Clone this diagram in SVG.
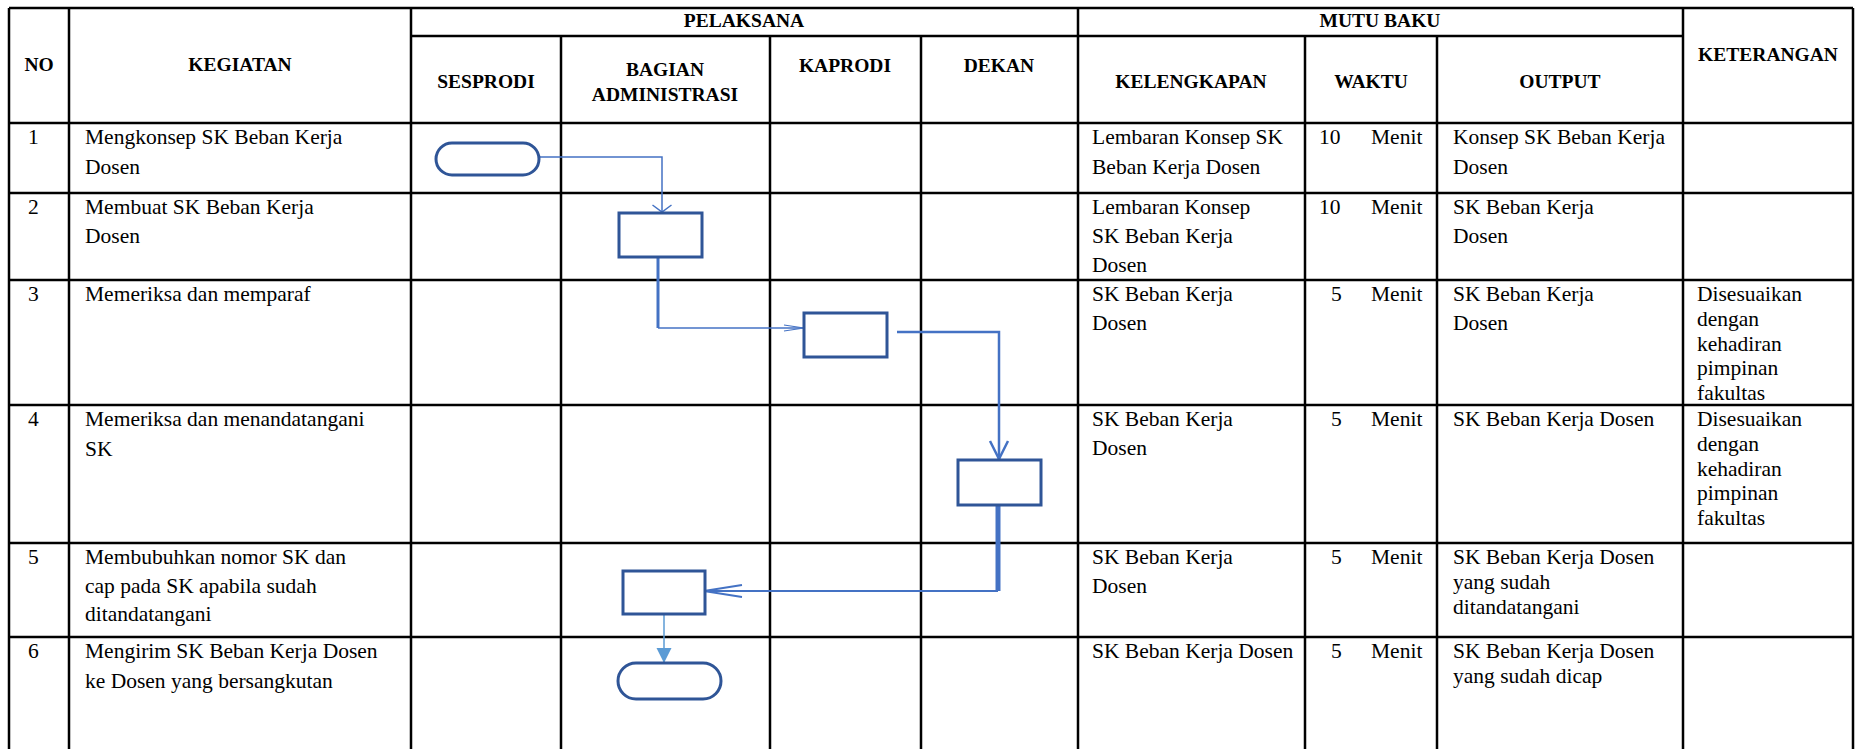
<svg xmlns="http://www.w3.org/2000/svg" width="1857" height="749" viewBox="0 0 1857 749">
<style>
.grid{stroke:#000;stroke-width:2.5;fill:none}
.h{font-family:"Liberation Serif",serif;font-weight:bold;font-size:19.5px;fill:#000;text-anchor:middle}
.t{font-family:"Liberation Serif",serif;font-size:21.5px;fill:#000}
.node{fill:#fff;stroke:#2F5597;stroke-width:3}
.c{fill:none;stroke:#4472C4}
</style>
<defs>
<marker id="vSmall" markerUnits="userSpaceOnUse" markerWidth="12" markerHeight="24" refX="10" refY="12" orient="auto"><path d="M3,2.5 L10,12 L3,21.5" fill="none" stroke="#4472C4" stroke-width="1.5"/></marker>
<marker id="chev" markerUnits="userSpaceOnUse" markerWidth="24" markerHeight="10" refX="22" refY="5" orient="auto"><path d="M2,2 L22,5 L2,8" fill="none" stroke="#4472C4" stroke-width="1.2"/></marker>
<marker id="vMid" markerUnits="userSpaceOnUse" markerWidth="22" markerHeight="22" refX="20" refY="11" orient="auto"><path d="M2,2 L20,11 L2,20" fill="none" stroke="#4472C4" stroke-width="2.5"/></marker>
<marker id="vLong" markerUnits="userSpaceOnUse" markerWidth="42" markerHeight="16" refX="40" refY="8" orient="auto"><path d="M2,2 L40,8 L2,14" fill="none" stroke="#4472C4" stroke-width="2"/></marker>
<marker id="tri" markerUnits="userSpaceOnUse" markerWidth="16" markerHeight="16" refX="15" refY="8" orient="auto"><path d="M0,0.5 L15,8 L0,15.5 Z" fill="#5B9BD5"/></marker>
</defs>
<rect width="1857" height="749" fill="#fff"/>
<g id="table-grid" class="grid">
<line x1="9" y1="8" x2="1853" y2="8"/>
<line x1="411" y1="36" x2="1683" y2="36"/>
<line x1="9" y1="123" x2="1853" y2="123"/>
<line x1="9" y1="193" x2="1853" y2="193"/>
<line x1="9" y1="280" x2="1853" y2="280"/>
<line x1="9" y1="405" x2="1853" y2="405"/>
<line x1="9" y1="543" x2="1853" y2="543"/>
<line x1="9" y1="637" x2="1853" y2="637"/>
<line x1="9" y1="8" x2="9" y2="749"/>
<line x1="69" y1="8" x2="69" y2="749"/>
<line x1="411" y1="8" x2="411" y2="749"/>
<line x1="561" y1="36" x2="561" y2="749"/>
<line x1="770" y1="36" x2="770" y2="749"/>
<line x1="921" y1="36" x2="921" y2="749"/>
<line x1="1078" y1="8" x2="1078" y2="749"/>
<line x1="1305" y1="36" x2="1305" y2="749"/>
<line x1="1437" y1="36" x2="1437" y2="749"/>
<line x1="1683" y1="8" x2="1683" y2="749"/>
<line x1="1853" y1="8" x2="1853" y2="749"/>
</g>
<g id="header-text" class="h">
<text x="39" y="71">NO</text>
<text x="240" y="71">KEGIATAN</text>
<text x="744" y="27">PELAKSANA</text>
<text x="1380" y="27">MUTU BAKU</text>
<text x="1768" y="61">KETERANGAN</text>
<text x="486" y="88">SESPRODI</text>
<text x="665" y="76">BAGIAN</text>
<text x="665" y="101">ADMINISTRASI</text>
<text x="845" y="72">KAPRODI</text>
<text x="999" y="72">DEKAN</text>
<text x="1191" y="88">KELENGKAPAN</text>
<text x="1371" y="88">WAKTU</text>
<text x="1560" y="88">OUTPUT</text>
</g>
<g id="row-1" class="t">
<text x="28" y="144">1</text>
<text x="85" y="144">Mengkonsep SK Beban Kerja</text>
<text x="85" y="174">Dosen</text>
<text x="1092" y="144">Lembaran Konsep SK</text>
<text x="1092" y="174">Beban Kerja Dosen</text>
<text x="1319" y="144">10</text>
<text x="1371" y="144">Menit</text>
<text x="1453" y="144">Konsep SK Beban Kerja</text>
<text x="1453" y="174">Dosen</text>
</g>
<g id="row-2" class="t">
<text x="28" y="214">2</text>
<text x="85" y="214">Membuat SK Beban Kerja</text>
<text x="85" y="243">Dosen</text>
<text x="1092" y="214">Lembaran Konsep</text>
<text x="1092" y="243">SK Beban Kerja</text>
<text x="1092" y="272">Dosen</text>
<text x="1319" y="214">10</text>
<text x="1371" y="214">Menit</text>
<text x="1453" y="214">SK Beban Kerja</text>
<text x="1453" y="243">Dosen</text>
</g>
<g id="row-3" class="t">
<text x="28" y="301">3</text>
<text x="85" y="301">Memeriksa dan memparaf</text>
<text x="1092" y="301">SK Beban Kerja</text>
<text x="1092" y="330">Dosen</text>
<text x="1331" y="301">5</text>
<text x="1371" y="301">Menit</text>
<text x="1453" y="301">SK Beban Kerja</text>
<text x="1453" y="330">Dosen</text>
<text x="1697" y="301">Disesuaikan</text>
<text x="1697" y="326">dengan</text>
<text x="1697" y="351">kehadiran</text>
<text x="1697" y="375">pimpinan</text>
<text x="1697" y="400">fakultas</text>
</g>
<g id="row-4" class="t">
<text x="28" y="426">4</text>
<text x="85" y="426">Memeriksa dan menandatangani</text>
<text x="85" y="456">SK</text>
<text x="1092" y="426">SK Beban Kerja</text>
<text x="1092" y="455">Dosen</text>
<text x="1331" y="426">5</text>
<text x="1371" y="426">Menit</text>
<text x="1453" y="426">SK Beban Kerja Dosen</text>
<text x="1697" y="426">Disesuaikan</text>
<text x="1697" y="451">dengan</text>
<text x="1697" y="476">kehadiran</text>
<text x="1697" y="500">pimpinan</text>
<text x="1697" y="525">fakultas</text>
</g>
<g id="row-5" class="t">
<text x="28" y="564">5</text>
<text x="85" y="564">Membubuhkan nomor SK dan</text>
<text x="85" y="593">cap pada SK apabila sudah</text>
<text x="85" y="621">ditandatangani</text>
<text x="1092" y="564">SK Beban Kerja</text>
<text x="1092" y="593">Dosen</text>
<text x="1331" y="564">5</text>
<text x="1371" y="564">Menit</text>
<text x="1453" y="564">SK Beban Kerja Dosen</text>
<text x="1453" y="589">yang sudah</text>
<text x="1453" y="614">ditandatangani</text>
</g>
<g id="row-6" class="t">
<text x="28" y="658">6</text>
<text x="85" y="658">Mengirim SK Beban Kerja Dosen</text>
<text x="85" y="688">ke Dosen yang bersangkutan</text>
<text x="1092" y="658">SK Beban Kerja Dosen</text>
<text x="1331" y="658">5</text>
<text x="1371" y="658">Menit</text>
<text x="1453" y="658">SK Beban Kerja Dosen</text>
<text x="1453" y="683">yang sudah dicap</text>
</g>
<g id="connectors">
<path class="c" d="M539,157 H662 V212" stroke-width="1.5" marker-end="url(#vSmall)"/>
<path class="c" d="M658,257 V328" stroke-width="3"/>
<path class="c" d="M658,328 H804" stroke-width="1.3" marker-end="url(#chev)"/>
<path class="c" d="M897,332 H999 V459" stroke-width="2.5" marker-end="url(#vMid)"/>
<path class="c" d="M998,505 V591" stroke-width="5"/>
<path class="c" d="M998,591 H704" stroke-width="2" marker-end="url(#vLong)"/>
<path d="M664,615 V663" fill="none" stroke="#5B9BD5" stroke-width="1.5" marker-end="url(#tri)"/>
</g>
<g id="node-start"><rect class="node" x="436" y="143" width="103" height="32" rx="16"/></g>
<g id="node-buat"><rect class="node" x="619" y="213" width="83" height="44"/></g>
<g id="node-paraf"><rect class="node" x="804" y="313" width="83" height="44"/></g>
<g id="node-ttd"><rect class="node" x="958" y="460" width="83" height="45"/></g>
<g id="node-nomor"><rect class="node" x="623" y="571" width="82" height="43"/></g>
<g id="node-end"><rect class="node" x="618" y="663" width="103" height="36" rx="18"/></g>
</svg>
